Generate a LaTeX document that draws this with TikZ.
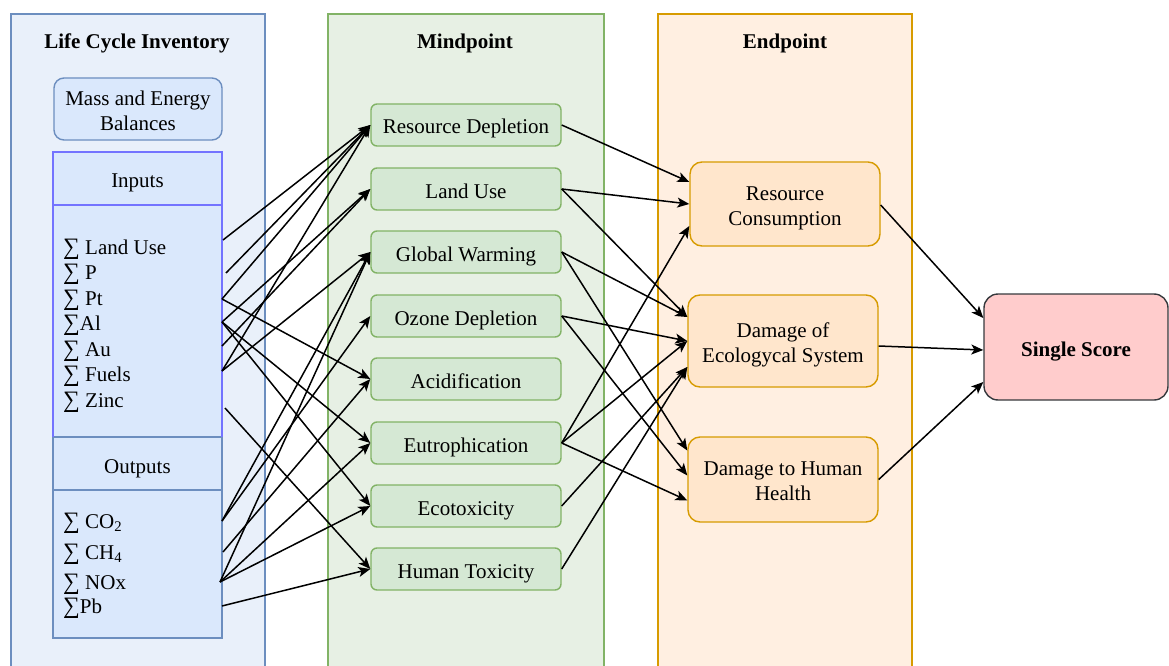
\documentclass[tikz,border=0pt]{standalone}
\usepackage{fontspec}
\setmainfont{Liberation Serif}
\usetikzlibrary{arrows.meta}

\definecolor{lciFill}{HTML}{E9F0FA}
\definecolor{lciLine}{HTML}{6C8EBF}
\definecolor{blueFill}{HTML}{DAE8FC}
\definecolor{inLine}{HTML}{7373FF}
\definecolor{midPanel}{HTML}{E7F0E4}
\definecolor{midFill}{HTML}{D5E8D4}
\definecolor{midLine}{HTML}{82B366}
\definecolor{endPanel}{HTML}{FFEFE1}
\definecolor{endFill}{HTML}{FFE6CC}
\definecolor{endLine}{HTML}{D79B00}
\definecolor{scoreFill}{HTML}{FFCCCC}
\definecolor{scoreLine}{HTML}{36393D}

% summation sign in front of each inventory flow
\newcommand{\flow}{\scalebox{1.12}{∑}}

\tikzset{
  txt/.style={font=\fontsize{21}{25}\selectfont},
  ttl/.style={font=\fontsize{21}{25}\selectfont\bfseries},
  panel/.style={line width=1.6pt},
  midbox/.style={draw=midLine, fill=midFill, line width=1.4pt, rounded corners=6pt,
    minimum width=190pt, minimum height=42pt, inner sep=0pt, text height=20pt, text depth=2pt, txt},
  endbox/.style={draw=endLine, fill=endFill, line width=1.4pt, rounded corners=12pt,
    minimum width=190pt, inner sep=0pt},
  boxtxt/.style={align=center, inner sep=0pt, txt},
  item/.style={anchor=base west, inner sep=0pt, txt},
  head/.style={text height=16pt, text depth=2pt, inner sep=0pt, txt},
  link/.style={line width=1.5pt, -{Stealth[length=12pt,width=10pt,inset=3pt]}},
}

\begin{document}
\begin{tikzpicture}[x=1pt,y=-1pt]
\useasboundingbox (0,0) rectangle (1169,666);
\clip (0,0) rectangle (1169,666);

% column panels
\draw[panel, draw=lciLine, fill=lciFill] (11,14) rectangle (265,680);
\draw[panel, draw=midLine, fill=midPanel] (328,14) rectangle (604,680);
\draw[panel, draw=endLine, fill=endPanel] (658,14) rectangle (912,680);

\node[ttl] (tLCI) at (137,43) {Life Cycle Inventory};
\node[ttl] (tMid) at (465,43) {Mindpoint};
\node[ttl] (tEnd) at (785,43) {Endpoint};

% inventory blocks
\node[draw=lciLine, fill=blueFill, line width=1.4pt, rounded corners=10pt,
  minimum width=168pt, minimum height=62pt, inner sep=0pt,
  label={[boxtxt, yshift=-2pt]center:{Mass and Energy\\Balances}}]
  (mass) at (138,109) {};
\draw[draw=inLine, fill=blueFill, line width=1.3pt] (53,152) rectangle (222,205);
\draw[draw=inLine, fill=blueFill, line width=1.3pt] (53,205) rectangle (222,437);
\draw[draw=lciLine, fill=blueFill, line width=1.3pt] (53,437) rectangle (222,490);
\draw[draw=lciLine, fill=blueFill, line width=1.3pt] (53,490) rectangle (222,638);
\draw[draw=inLine, line width=1.3pt] (53,437) -- (53,152) -- (222,152) -- (222,437);
\node[head] (hIn) at (137.5,180) {Inputs};
\node[head] (hOut) at (137.5,466) {Outputs};

\node[item] (iLand) at (63,254) {\flow\ Land Use};
\node[item] (iP) at (63,279.5) {\flow\ P};
\node[item] (iPt) at (63,305) {\flow\ Pt};
\node[item] (iAl) at (63,330.5) {\flow Al};
\node[item] (iAu) at (63,356) {\flow\ Au};
\node[item] (iFuel) at (63,381.5) {\flow\ Fuels};
\node[item] (iZinc) at (63,407) {\flow\ Zinc};
\node[item] (oCO) at (63,528) {\flow\ CO\textsubscript{2}};
\node[item] (oCH) at (63,559) {\flow\ CH\textsubscript{4}};
\node[item] (oNO) at (63,589) {\flow\ NOx};
\node[item] (oPb) at (63,613) {\flow Pb};

% start points of the inventory flows
\coordinate (sLand) at (223,240);
\coordinate (sP) at (226,273);
\coordinate (sPt) at (222,299);
\coordinate (sAl) at (222,322);
\coordinate (sAu) at (222,346);
\coordinate (sFuel) at (222,371);
\coordinate (sZinc) at (225,408);
\coordinate (sCO) at (222,521);
\coordinate (sCH) at (223,552);
\coordinate (sNO) at (220,582);
\coordinate (sPb) at (222,606);

% midpoint categories
\node[midbox] (rd) at (466,125) {Resource Depletion};
\node[midbox] (lu) at (466,189) {Land Use};
\node[midbox] (gw) at (466,252) {Global Warming};
\node[midbox] (oz) at (466,316) {Ozone Depletion};
\node[midbox] (ac) at (466,379) {Acidification};
\node[midbox] (eu) at (466,443) {Eutrophication};
\node[midbox] (ec) at (466,506) {Ecotoxicity};
\node[midbox] (ht) at (466,569) {Human Toxicity};

% endpoint categories
\node[endbox, minimum height=84pt,
  label={[boxtxt, yshift=-4pt]center:{Resource\\Consumption}}] (rc) at (785,204) {};
\node[endbox, minimum height=92pt,
  label={[boxtxt, yshift=-4pt]center:{Damage of\\Ecologycal System}}] (des) at (783,341) {};
\node[endbox, minimum height=85pt,
  label={[boxtxt, yshift=-2pt]center:{Damage to Human\\Health}}] (dhh) at (783,479.5) {};

\node[draw=scoreLine, fill=scoreFill, line width=1.4pt, rounded corners=14pt,
  minimum width=184pt, minimum height=106pt, inner sep=0pt,
  text height=20pt, text depth=2pt, ttl]
  (ss) at (1076,347) {Single Score};

% inventory -> midpoint
\draw[link] (sLand) -- (rd.west);
\draw[link] (sP) -- (rd.west);
\draw[link] (sPt) -- (rd.west);
\draw[link] (sPt) -- (ac.west);
\draw[link] (sAl) -- (lu.west);
\draw[link] (sAl) -- (eu.west);
\draw[link] (sAl) -- (ec.west);
\draw[link] (sAu) -- (lu.west);
\draw[link] (sFuel) -- (rd.west);
\draw[link] (sFuel) -- (gw.west);
\draw[link] (sZinc) -- (ht.west);
\draw[link] (sCO) -- (gw.west);
\draw[link] (sCO) -- (oz.west);
\draw[link] (sCH) -- (ac.west);
\draw[link] (sNO) -- (gw.west);
\draw[link] (sNO) -- (eu.west);
\draw[link] (sNO) -- (ec.west);
\draw[link] (sPb) -- (ht.west);

% midpoint -> endpoint
\draw[link] (rd.east) -- ([yshift=22pt]rc.west);
\draw[link] (lu.east) -- (rc.west);
\draw[link] (lu.east) -- ([yshift=24pt]des.west);
\draw[link] (gw.east) -- ([yshift=24pt]des.west);
\draw[link] (gw.east) -- ([yshift=29pt]dhh.west);
\draw[link] (oz.east) -- (des.west);
\draw[link] (oz.east) -- ([yshift=4pt]dhh.west);
\draw[link] (eu.east) -- ([yshift=-22pt]rc.west);
\draw[link] (eu.east) -- (des.west);
\draw[link] (eu.east) -- ([yshift=-21pt]dhh.west);
\draw[link] (ec.east) -- ([yshift=-26pt]des.west);
\draw[link] (ht.east) -- ([yshift=-26pt]des.west);

% endpoint -> single score
\draw[link] ([yshift=-1pt]rc.east) -- ([yshift=29pt]ss.west);
\draw[link] ([yshift=-5pt]des.east) -- ([yshift=-3pt]ss.west);
\draw[link] (dhh.east) -- ([yshift=-35pt]ss.west);
\end{tikzpicture}
\end{document}
